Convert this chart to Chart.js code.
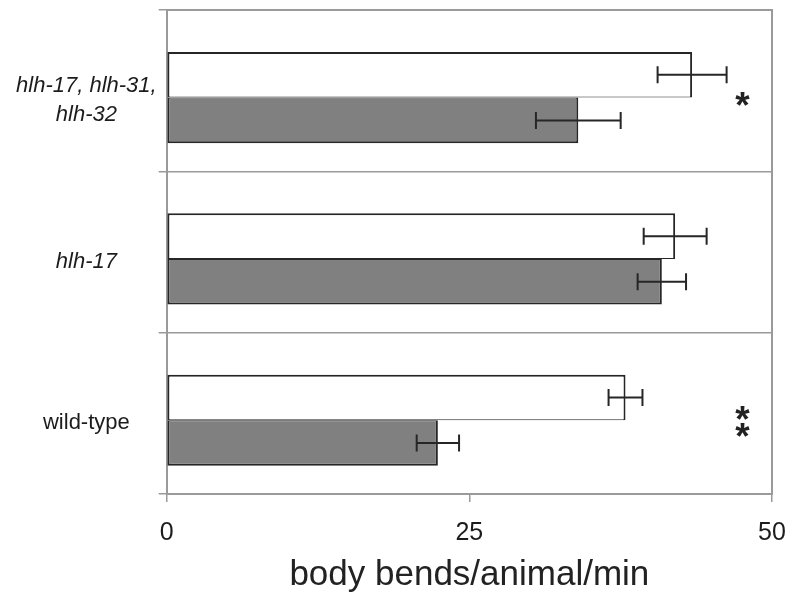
<!DOCTYPE html>
<html>
<head>
<meta charset="utf-8">
<script src="https://cdn.jsdelivr.net/npm/chart.js@4.4.1/dist/chart.umd.min.js"></script>
<style>
  html, body { margin: 0; padding: 0; background: #ffffff; }
  #wrap { width: 789px; height: 597px; }
</style>
</head>
<body>
<div id="wrap"><canvas id="c" width="789" height="597"></canvas></div>
<script>
// ---- data ----
const categories = [['hlh-17, hlh-31,', 'hlh-32'], 'hlh-17', 'wild-type'];
const categoryItalic = [true, true, false];
const openValues = [43.4, 42.0, 37.9];
const openErrors = [2.85, 2.6, 1.4];
const filledValues = [34.0, 40.9, 22.4];
const filledErrors = [3.5, 2.0, 1.75];
const significance = ['*', '', '**'];
const xTicks = [0, 25, 50];
const axisTitle = 'body bends/animal/min';

// ---- layout helpers (not data) ----
const FONT = "'Liberation Sans', Arial, Helvetica, sans-serif";
const BAR_SHIFT = 0.043;
const LABEL_SHIFT = 0.062;
const GRAY = '#9a9a9a';
const INK = '#1c1c1c';

Chart.defaults.font.family = FONT;
Chart.defaults.color = INK;

function noPad(s) { s.paddingTop = 0; s.paddingBottom = 0; s.paddingLeft = 0; s.paddingRight = 0; }

const errorBars = {
  id: 'errorBars',
  afterDatasetsDraw(chart) {
    const ctx = chart.ctx;
    const xs = chart.scales.x;
    chart.data.datasets.forEach((ds, di) => {
      const meta = chart.getDatasetMeta(di);
      meta.data.forEach((bar, i) => {
        const v = ds.data[i].x, e = ds.errors[i];
        const x1 = xs.getPixelForValue(v - e);
        const x2 = xs.getPixelForValue(v + e);
        const y = bar.y;
        const cap = 8.5;
        ctx.save();
        ctx.strokeStyle = '#262626';
        ctx.lineWidth = 2;
        ctx.beginPath();
        ctx.moveTo(x1, y); ctx.lineTo(x2, y);
        ctx.moveTo(x1, y - cap); ctx.lineTo(x1, y + cap);
        ctx.moveTo(x2, y - cap); ctx.lineTo(x2, y + cap);
        ctx.stroke();
        ctx.restore();
      });
    });
  }
};

const sigMarks = {
  id: 'sigMarks',
  afterDatasetsDraw(chart) {
    const ctx = chart.ctx;
    const ys = chart.scales.y;
    const x = chart.chartArea.right - 29.5;
    ctx.save();
    ctx.fillStyle = '#222';
    ctx.font = 'bold 37px ' + FONT;
    ctx.textAlign = 'center';
    ctx.textBaseline = 'alphabetic';
    const m = ctx.measureText('*');
    const off = (m.actualBoundingBoxAscent - m.actualBoundingBoxDescent) / 2;
    significance.forEach((s, i) => {
      if (!s) return;
      const cy = ys.getPixelForValue(i + BAR_SHIFT) + 1;
      const n = s.length;
      const step = 16.5;
      for (let k = 0; k < n; k++) {
        const yy = cy + (k - (n - 1) / 2) * step;
        ctx.fillText('*', x, yy + off);
      }
    });
    ctx.restore();
  }
};

new Chart(document.getElementById('c'), {
  type: 'bar',
  data: {
    datasets: [
      {
        label: 'open',
        data: openValues.map((v, i) => ({ x: v, y: i + BAR_SHIFT })),
        errors: openErrors,
        backgroundColor: '#ffffff',
        borderColor: '#262626',
        borderWidth: { left: 2, right: 2, top: 2, bottom: 1 },
        borderSkipped: false,
        yAxisID: 'y',
        xAxisID: 'x'
      },
      {
        label: 'filled',
        data: filledValues.map((v, i) => ({ x: v, y: i + BAR_SHIFT })),
        errors: filledErrors,
        backgroundColor: '#808080',
        borderColor: '#262626',
        borderWidth: { left: 2, right: 2, top: 1, bottom: 2 },
        borderSkipped: false,
        yAxisID: 'y',
        xAxisID: 'x'
      }
    ]
  },
  options: {
    indexAxis: 'y',
    responsive: false,
    animation: false,
    devicePixelRatio: 1,
    categoryPercentage: 0.565,
    barPercentage: 1,
    layout: { padding: { left: 0, top: 10, right: 17, bottom: 0 } },
    plugins: { legend: { display: false }, tooltip: { enabled: false } },
    scales: {
      x: {
        type: 'linear', position: 'bottom', min: 0, max: 50,
        afterBuildTicks: s => { s.ticks = xTicks.map(v => ({ value: v })); },
        ticks: { autoSkip: false, font: { size: 25 }, color: INK, padding: 16 },
        grid: { drawOnChartArea: false, drawTicks: true, tickLength: 8, color: GRAY, lineWidth: 1.5 },
        border: { display: true, color: GRAY, width: 2 },
        title: { display: true, text: axisTitle, font: { size: 35 }, color: '#222', padding: { top: 0, bottom: 1 } },
        afterFit: s => { s.height = 103; noPad(s); }
      },
      xTop: {
        type: 'linear', position: 'top', min: 0, max: 50,
        ticks: { display: false },
        grid: { display: false, drawTicks: false },
        border: { display: true, color: GRAY, width: 2 },
        afterFit: s => { s.height = 0; noPad(s); }
      },
      y: {
        type: 'linear', position: 'left', reverse: true, min: -0.5, max: 2.5,
        offset: false,
        afterBuildTicks: s => { s.ticks = [-0.5, 0.5, 1.5, 2.5].map(v => ({ value: v })); },
        ticks: { display: false },
        grid: { offset: false, color: GRAY, lineWidth: 1.5, tickLength: 8, drawTicks: true },
        border: { display: true, color: GRAY, width: 2 },
        afterFit: s => { s.width = 8; noPad(s); }
      },
      yLabels: {
        type: 'linear', position: 'left', reverse: true, min: -0.5, max: 2.5, weight: 1,
        offset: false,
        afterBuildTicks: s => { s.ticks = categories.map((c, i) => ({ value: i + LABEL_SHIFT })); },
        ticks: {
          autoSkip: false,
          callback: (v, i) => categories[i],
          crossAlign: 'center',
          padding: 2,
          color: INK,
          font: ctx => ({ family: FONT, size: 22, style: categoryItalic[ctx.index] ? 'italic' : 'normal', lineHeight: 1.3 })
        },
        grid: { display: false, drawTicks: false, offset: false },
        border: { display: false },
        afterFit: s => { s.width = 158.7; noPad(s); }
      },
      yRight: {
        type: 'linear', position: 'right', min: 0, max: 1,
        ticks: { display: false },
        grid: { display: false, drawTicks: false },
        border: { display: true, color: GRAY, width: 2 },
        afterFit: s => { s.width = 0; noPad(s); }
      }
    }
  },
  plugins: [errorBars, sigMarks]
});
</script>
</body>
</html>
